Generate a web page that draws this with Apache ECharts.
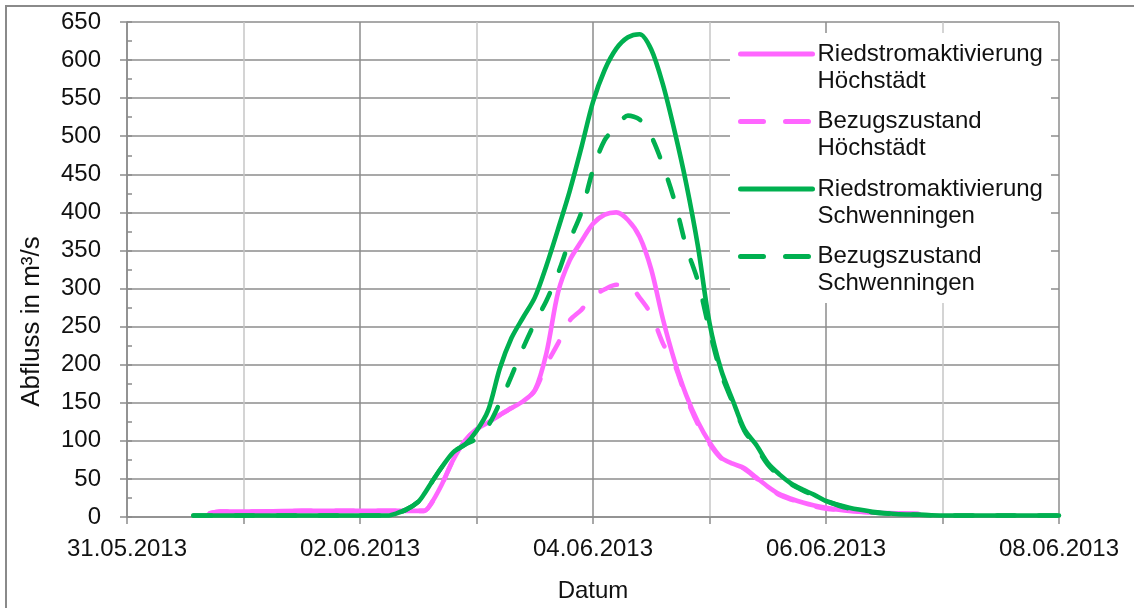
<!DOCTYPE html>
<html>
<head>
<meta charset="utf-8">
<script src="https://cdn.jsdelivr.net/npm/echarts@6/dist/echarts.min.js"></script>
<style>
  html, body { margin: 0; padding: 0; background: #fff; }
  #chart { width: 1134px; height: 608px; }
</style>
</head>
<body>
<div id="chart"></div>
<script>
// Zeit in Tagen ab 31.05.2013 00:00
var days = [0.57, 0.71, 0.8, 1.0, 1.5, 2.0, 2.25, 2.3, 2.4, 2.5, 2.55, 2.6, 2.7, 2.8, 2.9,
    3.0, 3.1, 3.2, 3.3, 3.4, 3.5, 3.6, 3.7, 3.8, 3.9,
    4.0, 4.1, 4.2, 4.3, 4.4, 4.5, 4.6, 4.7, 4.8, 4.9,
    5.0, 5.1, 5.2, 5.3, 5.4, 5.5, 5.6, 5.7, 5.8, 5.9,
    6.0, 6.2, 6.4, 6.6, 6.8, 7.0, 7.5, 8.0];

var riedHoechstaedt = [null, 5, 7, 7, 8, 8, 8, 8, 8, 8, 8, 15, 42, 75, 100,
    115, 124, 134, 143, 152, 166, 215, 295, 337, 362,
    385, 397, 400, 390, 368, 325, 260, 205, 160, 125,
    98, 78, 70, 64, 52, 40, 30, 24, 19, 15,
    12, 8, 6, 5, 4, null, null, null];

var bezugHoechstaedt = [null, 5, 7, 7, 8, 8, 8, 8, 8, 8, 8, 15, 42, 75, 100,
    115, 124, 134, 143, 152, 166, 200, 228, 258, 272,
    290, 299, 305, 305, 288, 266, 228, 200, 157, 122,
    96, 77, 69, 63, 51, 39, 29, 23, 18, 14,
    11, 8, 6, 5, 4, null, null, null];

var riedSchwenningen = [2, 2, 2, 2, 2, 2, 2, 4, 10, 20, 30, 42, 65, 85, 95,
    113, 140, 195, 235, 262, 288, 330, 378, 428, 485,
    545, 587, 615, 630, 634, 614, 568, 507, 438, 356,
    255, 193, 153, 115, 95, 71, 56, 44, 36, 29,
    21, 12, 7, 4, 3, 2, 2, 2];

var bezugSchwenningen = [2, 2, 2, 2, 2, 2, 2, 4, 10, 20, 30, 42, 65, 85, 95,
    103, 120, 150, 185, 222, 255, 284, 320, 363, 400,
    456, 495, 512, 527, 522, 500, 462, 415, 355, 310,
    245, 188, 150, 113, 92, 69, 54, 43, 35, 28,
    21, 11, 6, 4, 3, 2, 2, 2];

var dateLabels = ['31.05.2013', '', '02.06.2013', '', '04.06.2013', '', '06.06.2013', '', '08.06.2013'];
var seriesNames = ['Riedstromaktivierung\nHöchstädt', 'Bezugszustand\nHöchstädt',
    'Riedstromaktivierung\nSchwenningen', 'Bezugszustand\nSchwenningen'];

var pink = '#FF66FF',
    green = '#00B050',
    gridDark = '#8c8c8c',
    gridLight = '#c6c6c6',
    font = 'Liberation Sans, Arial, sans-serif';

function pairs(vals) {
    return days.map(function(d, i) { return [d, vals[i]]; });
}

var chart = echarts.init(document.getElementById('chart'));

function makeLine(name, vals, color, dashed) {
    return {
        name: name,
        type: 'line',
        symbol: 'none',
        smooth: 0.3,
        connectNulls: false,
        data: pairs(vals),
        lineStyle: {
            color: color,
            width: 4.6,
            type: dashed ? [18, 24] : 'solid',
            cap: 'round'
        },
        itemStyle: { color: color },
        animation: false
    };
}

var option = {
    animation: false,
    textStyle: { fontFamily: font },
    graphic: [{
        type: 'rect',
        shape: { x: 6, y: 6, width: 1200, height: 700 },
        style: { fill: 'none', stroke: '#8a8a8a', lineWidth: 2 },
        silent: true
    }, {
        // weisser Kasten hinter der Legende
        type: 'rect',
        z: 1,
        shape: { x: 730, y: 33, width: 321, height: 270 },
        style: { fill: '#fff' },
        silent: true
    }],
    grid: {
        left: 127,
        top: 22,
        right: 75,
        bottom: 90
    },
    legend: {
        orient: 'vertical',
        left: 738,
        top: 13.5,
        padding: 0,
        itemWidth: 72,
        itemHeight: 14,
        itemGap: -13.5,
        itemStyle: { opacity: 0 },
        data: seriesNames.map(function(n, i) {
            return {
                name: n,
                lineStyle: {
                    width: 5,
                    type: i % 2 === 1 ? [23, 22] : 'solid',
                    cap: 'round'
                }
            };
        }),
        formatter: function(name) { return '\n' + name; },
        textStyle: {
            fontFamily: font,
            fontSize: 24,
            lineHeight: 27,
            color: '#111'
        }
    },
    xAxis: {
        type: 'value',
        min: 0,
        max: 8,
        interval: 1,
        name: 'Datum',
        nameLocation: 'middle',
        nameGap: 62,
        nameTextStyle: { fontSize: 24, color: '#111', fontFamily: font },
        axisLine: { lineStyle: { color: gridDark, width: 1.5 } },
        axisTick: { show: true, length: 7, lineStyle: { color: gridDark, width: 1.5 } },
        axisLabel: {
            margin: 20,
            fontSize: 24,
            color: '#111',
            fontFamily: font,
            formatter: function(v) { return dateLabels[Math.round(v)] || ''; }
        },
        splitLine: {
            show: true,
            lineStyle: { color: [gridDark, gridLight], width: 1.5 }
        }
    },
    yAxis: [{
        type: 'value',
        min: 0,
        max: 650,
        interval: 50,
        name: 'Abfluss in m³/s',
        nameLocation: 'middle',
        nameGap: 82,
        nameTextStyle: {
            fontSize: 26,
            color: '#111',
            fontFamily: font,
            padding: [0, 104, 0, 0]
        },
        axisLine: { show: true, lineStyle: { color: gridDark, width: 1.5 } },
        axisTick: { show: true, length: 7, lineStyle: { color: gridDark, width: 1.5 } },
        axisLabel: { margin: 26, fontSize: 24, color: '#111', fontFamily: font },
        splitLine: { show: true, lineStyle: { color: gridDark, width: 1.5 } }
    }, {
        // kleine Zwischenstriche innen
        type: 'value',
        position: 'left',
        min: 0,
        max: 650,
        interval: 25,
        axisLine: { show: false },
        axisTick: { show: true, inside: true, length: 5, lineStyle: { color: gridDark, width: 1.5 } },
        axisLabel: { show: false },
        splitLine: { show: false }
    }],
    series: [
        makeLine(seriesNames[0], riedHoechstaedt, pink, false),
        makeLine(seriesNames[1], bezugHoechstaedt, pink, true),
        makeLine(seriesNames[2], riedSchwenningen, green, false),
        makeLine(seriesNames[3], bezugSchwenningen, green, true)
    ]
};

chart.setOption(option);
</script>
</body>
</html>
